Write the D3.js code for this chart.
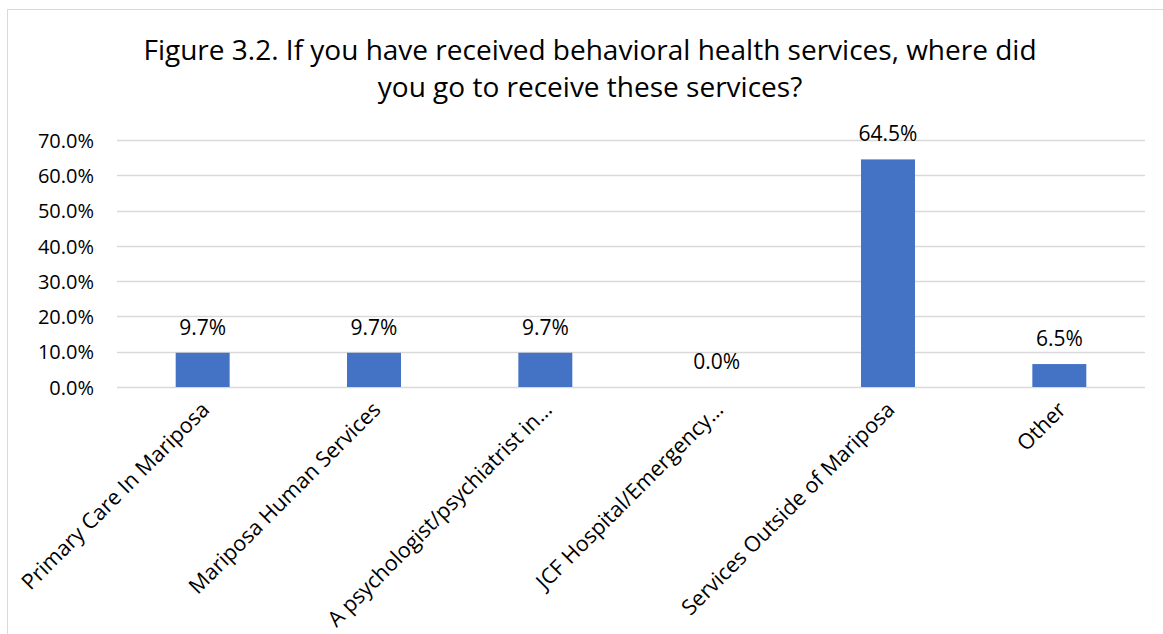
<!DOCTYPE html>
<html><head><meta charset="utf-8">
<script src="https://cdn.jsdelivr.net/npm/d3@7"></script>
<style>body{margin:0;background:#fff}svg{display:block}text{font-family:"Open Sans",sans-serif;fill:#000}</style>
</head><body><svg id="c" width="1163" height="634"></svg>
<script>
const categories = ["Primary Care In Mariposa","Mariposa Human Services","A psychologist/psychiatrist in…","JCF Hospital/Emergency…","Services Outside of Mariposa","Other"];
const values = [0.097,0.097,0.097,0.0,0.645,0.065];
const yTicks = [0,0.1,0.2,0.3,0.4,0.5,0.6,0.7];
const titleLines = ["Figure 3.2. If you have received behavioral health services, where did","you go to receive these services?"];

const svg = d3.select("#c");
const W=1163,H=634;
const pLeft=117,pRight=1145,pTop=140,pBottom=387;
// chart border
svg.append("path").attr("d",`M7.5,${H}V9.5H${W}`).attr("fill","none").attr("stroke","#d9d9d9").attr("stroke-width",1);

const x = d3.scaleBand().domain(categories).range([pLeft,pRight]).paddingInner(0.685).paddingOuter(0.3425);
const y = d3.scaleLinear().domain([0,0.7]).range([pBottom,pTop]);
const fmt = d3.format(".1%");

// gridlines
svg.append("g").selectAll("line").data(yTicks).join("line")
  .attr("x1",pLeft).attr("x2",pRight).attr("y1",d=>Math.round(y(d))+0.5).attr("y2",d=>Math.round(y(d))+0.5)
  .attr("stroke","#d9d9d9").attr("stroke-width",1.3);

// y axis labels
const ya = svg.append("g").attr("transform",`translate(${pLeft},0)`)
  .call(d3.axisLeft(y).tickValues(yTicks).tickFormat(fmt).tickSize(0).tickPadding(23));
ya.select(".domain").remove();
ya.selectAll("text").attr("font-family","Open Sans").attr("font-size",20).attr("fill","#000").attr("dy","0.36em");

// bars
svg.append("g").selectAll("rect").data(values).join("rect")
  .attr("x",(d,i)=>x(categories[i])).attr("width",x.bandwidth())
  .attr("y",d=>y(d)).attr("height",d=>y(0)-y(d)).attr("fill","#4472C4");

// data labels
svg.append("g").selectAll("text").data(values).join("text")
  .attr("x",(d,i)=>x(categories[i])+x.bandwidth()/2).attr("y",d=>y(d)-18)
  .attr("text-anchor","middle").attr("font-size",21).text(d=>fmt(d));

// x axis
const xa = svg.append("g").attr("transform",`translate(0,${pBottom})`)
  .call(d3.axisBottom(x).tickSize(0).tickPadding(0));
xa.select(".domain").remove();
xa.selectAll("text").attr("font-family","Open Sans").attr("font-size",21.5).attr("fill","#000")
  .attr("text-anchor","end").attr("dy",0).attr("y",0)
  .attr("transform","translate(8,24) rotate(-45)");

// title
svg.append("text").attr("x",590).attr("text-anchor","middle").attr("font-size",28)
  .selectAll("tspan").data(titleLines).join("tspan").attr("x",590).attr("y",(d,i)=>60+i*37).text(d=>d);
</script></body></html>
